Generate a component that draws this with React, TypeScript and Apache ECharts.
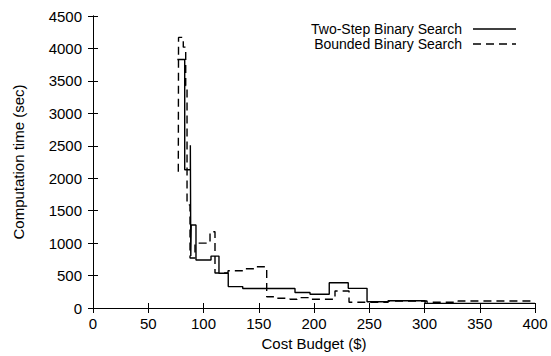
import React, { useEffect, useRef } from "react";
import * as echarts from "echarts";

const seriesNames = ["Two-Step Binary Search", "Bounded Binary Search"];

// Step data: value holds from x[i] until x[i+1]
const twoStepX = [76.3, 83.0, 88.1, 88.5, 88.9, 93.2, 106.8, 114.0, 122.4, 135.5, 182.8, 196.4, 213.8, 231.0, 248.0, 267.2, 300.5, 400];
const twoStepY = [3830, 2130, 2510, 800, 1280, 740, 800, 535, 330, 300, 240, 211, 390, 303, 97, 112, 72, 72];

const boundedX = [77.2, 77.4, 81.7, 83.9, 85.1, 87.8, 92.3, 105.9, 110.4, 122.2, 135.7, 148.0, 157.2, 166.5, 178.3, 184.6, 196.4, 219.0, 231.7, 267.0, 302.3, 330.3, 400];
const boundedY = [2100, 4170, 4020, 3430, 1590, 770, 1000, 1175, 540, 575, 605, 636, 174, 150, 134, 160, 134, 262, 88, 108, 88, 108, 108];

const xMin = 0, xMax = 400, xStep = 50;
const yMin = 0, yMax = 4500, yStep = 500;
const xTitle = "Cost Budget ($)";
const yTitle = "Computation time (sec)";

const FONT = "'Liberation Sans', Arial, Helvetica, sans-serif";
const DASH = [8, 5];

export default function App() {
  const ref = useRef<HTMLDivElement>(null);
  useEffect(() => {
    if (!ref.current) return;
    const chart = echarts.init(ref.current, undefined, { renderer: "svg" });
    const zip = (xs: number[], ys: number[]) => xs.map((x, i) => [x, ys[i]]);
    const axisLine = { show: true, lineStyle: { color: "#000", width: 1 } };
    const tick = { show: true, inside: true, length: 5, lineStyle: { color: "#000", width: 1 } };
    const plain = (v: number) => String(v);

    // legend drawn as graphic (text right-aligned, line sample to its right)
    const legendRows = [29, 44];
    const legendGraphics: any[] = [];
    seriesNames.forEach((name, i) => {
      const y = legendRows[i];
      legendGraphics.push({
        type: "text",
        x: 462,
        y,
        style: { text: name, font: `14px ${FONT}`, fill: "#000", align: "right", verticalAlign: "middle" },
      });
      legendGraphics.push({
        type: "line",
        shape: { x1: 473, y1: y, x2: 516, y2: y },
        style: { stroke: "#000", lineWidth: 1.4, lineDash: i === 0 ? null : DASH },
      });
    });

    chart.setOption({
      animation: false,
      textStyle: { fontFamily: FONT },
      grid: { left: 93, right: 16, top: 16, bottom: 48 },
      graphic: legendGraphics,
      xAxis: [
        {
          type: "value", min: xMin, max: xMax, interval: xStep,
          axisLine, axisTick: tick, splitLine: { show: false },
          axisLabel: { color: "#000", fontSize: 15, fontFamily: FONT, margin: 8, formatter: plain },
          name: xTitle, nameLocation: "middle", nameGap: 28,
          nameTextStyle: { color: "#000", fontSize: 15, fontFamily: FONT },
        },
        {
          type: "value", position: "top", min: xMin, max: xMax, interval: xStep,
          axisLine, axisTick: tick, splitLine: { show: false }, axisLabel: { show: false },
        },
      ],
      yAxis: [
        {
          type: "value", min: yMin, max: yMax, interval: yStep,
          axisLine, axisTick: tick, splitLine: { show: false },
          axisLabel: { color: "#000", fontSize: 15, fontFamily: FONT, margin: 11, formatter: plain },
          name: yTitle, nameLocation: "middle", nameGap: 67,
          nameTextStyle: { color: "#000", fontSize: 15, fontFamily: FONT },
        },
        {
          type: "value", position: "right", min: yMin, max: yMax, interval: yStep,
          axisLine, axisTick: tick, splitLine: { show: false }, axisLabel: { show: false },
        },
      ],
      series: [
        {
          name: seriesNames[0], type: "line", step: "end", symbol: "none",
          data: zip(twoStepX, twoStepY),
          lineStyle: { color: "#000", width: 1.4, type: "solid" },
          itemStyle: { color: "#000" },
        },
        {
          name: seriesNames[1], type: "line", step: "end", symbol: "none",
          data: zip(boundedX, boundedY),
          lineStyle: { color: "#000", width: 1.4, type: DASH },
          itemStyle: { color: "#000" },
        },
      ],
    });
    return () => chart.dispose();
  }, []);
  return (
    <div
      ref={ref}
      style={{ position: "fixed", left: 0, top: 0, width: 551, height: 356, background: "#fff" }}
    />
  );
}
